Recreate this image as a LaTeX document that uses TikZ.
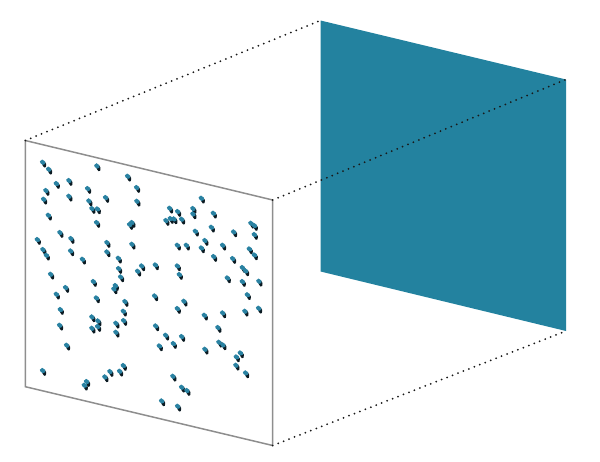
\documentclass[tikz,border=0pt]{standalone}
\definecolor{planeteal}{HTML}{23829F}
\definecolor{pointteal}{HTML}{2A82A2}
\definecolor{pointdark}{HTML}{0B1A22}
\definecolor{framegray}{HTML}{8E8E8E}
\tikzset{
  framed/.style={draw=framegray,line width=1.5pt,line join=miter,fill=white},
  linkline/.style={line width=2pt,line cap=round,dash pattern=on 0pt off 5.85pt,draw=black!90},
  bluepanel/.style={fill=planeteal,draw=none}
}
\newcommand{\pointglyph}[2]{%
  \fill[pointdark] (#1-1.0,#2+0.4) -- (#1+2.0,#2-1.0) -- (#1+3.2,#2+1.0) -- (#1+2.9,#2+4.0) -- (#1+1.2,#2+4.5) -- (#1-0.4,#2+2.4) -- cycle;
  \fill[pointteal] (#1-3.1,#2-1.6) -- (#1-0.8,#2-3.5) -- (#1+2.1,#2-1.5) -- (#1+2.1,#2+1.0) -- (#1-0.3,#2+1.9) -- (#1-2.5,#2+0.2) -- cycle;
}
\begin{document}
\begin{tikzpicture}[x=1pt,y=-1pt]
\useasboundingbox (0,0) rectangle (600,461);
\coordinate (fa) at (25.3,140.5);
\coordinate (fb) at (272.7,200);
\coordinate (fc) at (272.7,445.5);
\coordinate (fd) at (25.3,386.7);
\coordinate (ba) at (320.5,20.5);
\coordinate (bb) at (566,79.5);
\coordinate (bc) at (566,331);
\coordinate (bd) at (320.5,271.5);
\fill[bluepanel] (ba) -- (bb) -- (bc) -- (bd) -- cycle;
\draw[framed] (fa) -- (fb) -- (fc) -- (fd) -- cycle;
\draw[linkline] (fa) -- (ba);
\draw[linkline] (fb) -- (bb);
\draw[linkline] (fc) -- (bc);
\foreach \px/\py in {
43/163,49/170,97.3/166.7,128/177,56.7/184.3,69.3/181.3,46.3/191.3,88/189.3,137/188.3,44/200,
69.3/197,89.3/201.7,106/198.3,137.3/202,92.3/209.3,97.7/209.7,48.7/216,97/223.3,132.3/223.3,130/225.3,
60.3/233.3,37.7/240.3,71.3/239.3,107.3/243.3,132.3/245,43.3/250.3,46.7/256,71/251.7,107.3/252.7,82.8/260,118.7/259,
201.7/199,170/209,178/212.3,193.3/209.3,193.3/214.7,213.7/214,166.3/221.3,170.7/219.3,174.3/219.7,182/220,
195.7/232,211.7/228,234/232.7,251.3/224,254.7/226.3,254.7/235.3,205.3/241.3,177.7/246,186.7/246,201.7/248.7,
223/246,249.7/249.7,254.7/255.7,214/257.3,233/259.3,155.7/265.7,177.7/266.7,179.7/275.3,242.7/268.3,246/271.7,
227.7/278.7,242.7/282.3,259.3/282,247.7/295.5,155/296.7,
119/269.3,142/266.7,138/272,51/275,121/277.7,66/288.3,93.7/282.3,115.7/286.3,114.3/289.7,56.7/295,
96.7/298.7,125.3/302.3,60.7/310.3,123.7/312,92.3/317.7,98.3/321.7,124/321.3,116.3/324,60/326,98/327.3,
92.3/329,116.3/333,67/346,43/371.3,123.7/366.3,110.3/372.3,120/372,105.3/377.7,87/382.3,84.7/386,
184.3/302,177.7/309.3,204.7/316,223/313.7,245.3/312,259/309,218.3/328.3,156/326.7,166/336,182/337.3,
173.7/344.3,159.7/346.7,219.3/343,223.3/345.7,205.3/350,240.7/353.7,236.7/357.7,236.3/366,246/373.7,
173.3/377,182/388,187.3/391.3,162/401.7,178/407}{\pointglyph{\px}{\py}}
\end{tikzpicture}
\end{document}
